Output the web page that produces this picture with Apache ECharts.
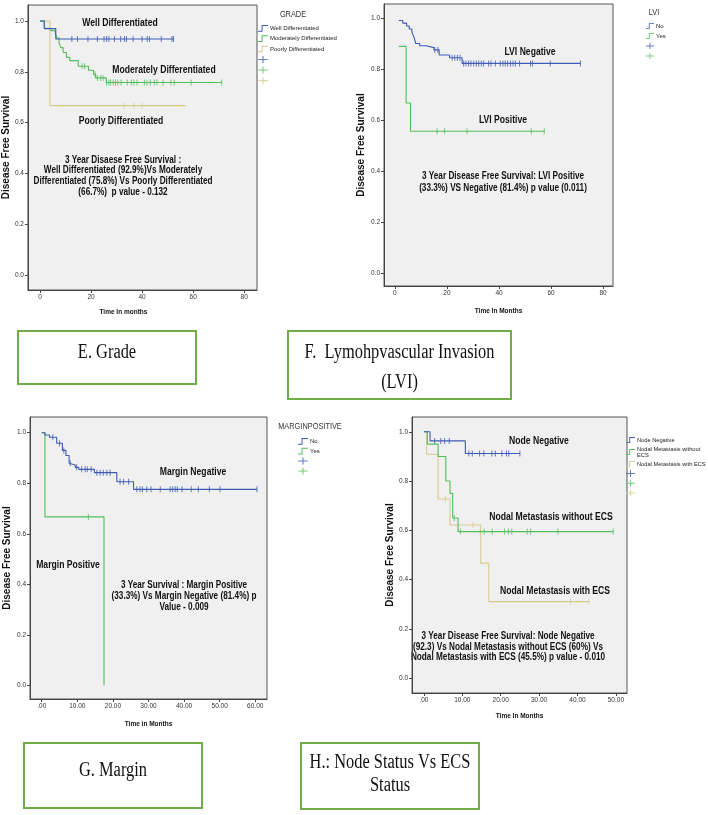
<!DOCTYPE html>
<html>
<head>
<meta charset="utf-8">
<script src="https://cdn.jsdelivr.net/npm/echarts@6/dist/echarts.min.js"></script>
<style>
  html, body { margin: 0; padding: 0; background: #fff; }
  #chart { width: 708px; height: 815px; }
</style>
</head>
<body>
<div id="chart"></div>
<script>
// ---- tick labels
const surv_ticks = [0, 0.2, 0.4, 0.6, 0.8, 1.0];
const month_ticks_80 = [0, 20, 40, 60, 80];
const month_ticks_60 = [0, 10, 20, 30, 40, 50, 60];
const month_ticks_50 = [0, 10, 20, 30, 40, 50];

// ---- E. Grade  (step points [month, survival], censored months)
const grade_well = [[0, 1], [1.7, 0.97], [6.2, 0.929], [52.3, 0.929]];
const grade_well_cens = [12.5, 14.7, 18.8, 22.5, 25.1, 26.1, 27, 29.2, 31.6, 33.1, 33.9, 36.5, 40, 42, 42.9, 47.5, 51.7, 52.3];
const grade_mod = [[0, 1], [1.7, 0.971], [4.3, 0.962], [6, 0.952], [6.7, 0.933], [7.5, 0.914], [8.2, 0.895], [9.1, 0.876],
  [10.4, 0.857], [11.7, 0.844], [15, 0.822], [19, 0.806], [21, 0.79], [21.8, 0.776], [26, 0.758], [71.2, 0.758]];
const grade_mod_cens = [16.5, 17.5, 21.6, 22.5, 23.8, 24.7, 26.1, 27, 27.7, 28.7, 29.6, 30.5, 31.8, 34.2, 35.8, 36.8, 38,
  40.9, 41.9, 43.2, 44.8, 45.8, 48.2, 51.3, 52.6, 59.2, 71.2];
const grade_poor = [[0, 1], [3.9, 0.667], [57.1, 0.667]];
const grade_poor_cens = [32.9, 36.8, 40];

// ---- F. LVI
const lvi_neg = [[1.5, 0.99], [3, 0.98], [4.5, 0.969], [5.5, 0.957], [6.5, 0.945], [7, 0.933], [7.5, 0.92], [8, 0.9],
  [9.5, 0.891], [12, 0.884], [15, 0.875], [17, 0.855], [21, 0.844], [25.8, 0.822], [71.3, 0.822]];
const lvi_neg_cens = [15.3, 16.5, 22, 23, 24, 25, 26.4, 27.3, 28.3, 29.2, 30.3, 31.3, 32.2, 33.2, 34.1, 36, 36.9, 38.6,
  40.5, 41.5, 42.4, 43.3, 44.4, 45.4, 46.3, 47.9, 52.1, 52.9, 59.7, 71.3];
const lvi_pos = [[1.5, 0.889], [4.3, 0.667], [6, 0.556], [57.4, 0.556]];
const lvi_pos_cens = [16.2, 19.1, 27.7, 52.4, 57.4];

// ---- G. Margin
const margin_neg = [[0, 1], [0.9, 0.991], [2.2, 0.982], [4.2, 0.958], [5.8, 0.93], [6.8, 0.91], [7.7, 0.879], [8.2, 0.872],
  [9.4, 0.863], [10.4, 0.855], [14.8, 0.842], [21.1, 0.806], [25.8, 0.776], [60.5, 0.776]];
const margin_neg_cens = [3.1, 5.0, 6.2, 8.0, 9.8, 11.2, 12.2, 12.8, 13.9, 15.5, 16.4, 17.3, 18.3, 19.2, 22, 23, 24.4,
  26.7, 27.6, 28.3, 29.5, 30.7, 33.3, 36.1, 36.8, 37.5, 38.1, 39.4, 42, 44, 47.1, 50.1, 60.5];
const margin_pos = [[0, 1], [0.9, 0.667], [17.5, 0.667], [17.5, 0]];
const margin_pos_cens = [13.1];

// ---- H. Node status vs ECS
const node_neg = [[0, 1], [1.6, 0.963], [10.8, 0.912], [25, 0.912]];
const node_neg_cens = [2.8, 4.4, 5.4, 6.6, 11.7, 12.6, 14.5, 15.6, 17.7, 18.6, 20.3, 21.5, 22.1, 25];
const nodal_no_ecs = [[0, 1], [0.9, 0.95], [3.7, 0.9], [5.7, 0.8], [6.8, 0.75], [7.5, 0.65], [8.9, 0.595], [49.3, 0.595]];
const nodal_no_ecs_cens = [7.9, 9.5, 14.7, 15.7, 17.8, 21, 22, 22.9, 26.9, 27.8, 34.9, 49.3];
const nodal_ecs = [[0, 1], [0.7, 0.909], [3.7, 0.727], [6.8, 0.622], [14.8, 0.467], [16.9, 0.311], [43, 0.311]];
const nodal_ecs_cens = [5.6, 12.8, 38.2, 43];

const BLUE = '#3f5bb5';
const GREEN = '#52bf5a';
const TAN = '#d6cb8e';
const SANS = '"Liberation Sans", Arial, sans-serif';
const SERIF = '"Liberation Serif", "Times New Roman", serif';
const SQUEEZE = 0.82;   // the source figure is horizontally squashed

const STEP_ICON = 'path://M0,8 L5,8 L5,0 L14,0 L14,1.4 L6.4,1.4 L6.4,9.4 L0,9.4 Z';
const PLUS_ICON = 'path://M0,3.8 L12,3.8 L12,5.2 L0,5.2 Z M5.3,0 L6.7,0 L6.7,9 L5.3,9 Z';

// survival value of a step curve at time t
function survAt(steps, t) {
  let v = steps[0][1];
  for (const [x, y] of steps) {
    if (x <= t) v = y;
  }
  return v;
}

// ✅ one KM panel: grid + axes
const panels = [
  { grid: { left: 27, top: 5, width: 230, height: 285 }, x: [-4.7, 85], y: [-0.059, 1.063], ticks: month_ticks_80,
    fmt: v => String(v), xName: 'Time In months', xGap: 19, xPad: [0, 38, 0, 0], yGap: 16 },
  { grid: { left: 384, top: 4, width: 229, height: 282 }, x: [-4.2, 83.8], y: [-0.051, 1.055], ticks: month_ticks_80,
    fmt: v => String(v), xName: 'Time In Months', xGap: 22, xPad: 0, yGap: 18 },
  { grid: { left: 30, top: 417, width: 237, height: 282 }, x: [-3.3, 63.3], y: [-0.053, 1.062], ticks: month_ticks_60,
    fmt: v => v === 0 ? '.00' : v.toFixed(2), xName: 'Time in Months', xGap: 22, xPad: 0, yGap: 18 },
  { grid: { left: 412, top: 417, width: 215, height: 276 }, x: [-3.1, 52.9], y: [-0.06, 1.06], ticks: month_ticks_50,
    fmt: v => v === 0 ? '.00' : v.toFixed(2), xName: 'Time In Months', xGap: 20, xPad: 0, yGap: 15 }
];

const axisLine = { show: true, onZero: false, lineStyle: { color: '#444', width: 1 } };
const tickLabel = { fontFamily: SANS, fontSize: 6.5, color: '#333', margin: 4 };

const grids = panels.map(p => Object.assign({ show: true, backgroundColor: '#f0f0f0', borderColor: '#555', borderWidth: 1 }, p.grid));

const xAxes = panels.map((p, i) => ({
  type: 'value', gridIndex: i, min: p.x[0], max: p.x[1],
  axisLine: axisLine, splitLine: { show: false },
  axisTick: { customValues: p.ticks, length: 3, lineStyle: { color: '#444' } },
  axisLabel: Object.assign({ customValues: p.ticks, formatter: p.fmt }, tickLabel),
  name: p.xName, nameLocation: 'middle', nameGap: p.xGap,
  nameTextStyle: { fontFamily: SANS, fontWeight: 'bold', fontSize: 6.5, color: '#111', padding: p.xPad }
}));

const yAxes = panels.map((p, i) => ({
  type: 'value', gridIndex: i, min: p.y[0], max: p.y[1],
  axisLine: axisLine, splitLine: { show: false },
  axisTick: { customValues: surv_ticks, length: 3, lineStyle: { color: '#444' } },
  axisLabel: Object.assign({ customValues: surv_ticks, formatter: v => v.toFixed(1) }, tickLabel),
  name: 'Disease Free Survival', nameLocation: 'middle', nameGap: p.yGap, nameRotate: 90,
  nameTextStyle: { fontFamily: SANS, fontWeight: 'bold', fontSize: 10, color: '#111' }
}));

// ✅ groups per panel
const groups = [
  [
    { name: 'Well Differentiated', steps: grade_well, cens: grade_well_cens, color: BLUE },
    { name: 'Moderately Differentiated', steps: grade_mod, cens: grade_mod_cens, color: GREEN },
    { name: 'Poorly Differentiated', steps: grade_poor, cens: grade_poor_cens, color: TAN }
  ],
  [
    { name: 'No', steps: lvi_neg, cens: lvi_neg_cens, color: BLUE },
    { name: 'Yes', steps: lvi_pos, cens: lvi_pos_cens, color: GREEN }
  ],
  [
    { name: 'No ', steps: margin_neg, cens: margin_neg_cens, color: BLUE },
    { name: 'Yes ', steps: margin_pos, cens: margin_pos_cens, color: GREEN }
  ],
  [
    { name: 'Node Negative', steps: node_neg, cens: node_neg_cens, color: BLUE },
    { name: 'Nodal Metastasis without ECS', steps: nodal_no_ecs, cens: nodal_no_ecs_cens, color: GREEN },
    { name: 'Nodal Metastasis with ECS', steps: nodal_ecs, cens: nodal_ecs_cens, color: TAN }
  ]
];

const series = [];
groups.forEach((list, i) => {
  // draw in reverse so the first group sits on top
  list.slice().reverse().forEach(g => {
    series.push({
      name: g.name, type: 'line', step: 'end', xAxisIndex: i, yAxisIndex: i,
      data: g.steps, symbol: 'none', silent: true,
      lineStyle: { color: g.color, width: 1.1 }, itemStyle: { color: g.color }
    });
    series.push({
      name: g.name + '+', type: 'scatter', xAxisIndex: i, yAxisIndex: i,
      data: g.cens.map(t => [t, survAt(g.steps, t)]),
      symbol: 'rect', symbolSize: [1, 6], silent: true,
      itemStyle: { color: g.color }
    });
  });
});

const legendPos = [
  { left: 258, top: 25, itemWidth: 10, fontSize: 6, gap: 3.6 },
  { left: 646, top: 23, itemWidth: 8, fontSize: 6, gap: 4 },
  { left: 298, top: 438, itemWidth: 10, fontSize: 6, gap: 3 },
  { left: 626, top: 437, itemWidth: 9, fontSize: 5.7, gap: 3 }
];

const legends = groups.map((list, i) => ({
  left: legendPos[i].left, top: legendPos[i].top, padding: 0,
  orient: 'vertical', selectedMode: false, itemWidth: legendPos[i].itemWidth, itemHeight: 7, itemGap: legendPos[i].gap,
  textStyle: { fontFamily: SANS, fontSize: legendPos[i].fontSize, lineHeight: 6, color: '#222', padding: [0, 0, 0, -3] },
  formatter: name => {
    if (name.endsWith('+')) return '';
    if (name === 'Nodal Metastasis without ECS') return 'Nodal Metastasis without\nECS';
    return name;
  },
  data: list.map(g => ({ name: g.name, icon: STEP_ICON }))
    .concat(list.map(g => ({ name: g.name + '+', icon: PLUS_ICON })))
}));

// ---- texts
function label(text, x, y, size, lh) {
  return {
    type: 'text', x: x, y: y, scaleX: SQUEEZE, silent: true,
    style: { text: text, align: 'center', verticalAlign: 'middle', fontFamily: SANS, fontWeight: 'bold',
      fontSize: size, lineHeight: lh || size + 2, fill: '#111' }
  };
}

function plain(text, x, y) {
  return {
    type: 'text', x: x, y: y, scaleX: SQUEEZE, silent: true,
    style: { text: text, align: 'center', verticalAlign: 'middle', fontFamily: SANS, fontSize: 9, fill: '#333' }
  };
}

function caption(box, text, cy, lh) {
  return [
    { type: 'rect', shape: box, silent: true, style: { fill: 'none', stroke: '#70ad47', lineWidth: 2 } },
    {
      type: 'text', x: box.x + box.width / 2, y: cy, scaleX: SQUEEZE, silent: true,
      style: { text: text, align: 'center', verticalAlign: 'middle', fontFamily: SERIF, fontSize: 20, lineHeight: lh, fill: '#111' }
    }
  ];
}

const graphics = [
  plain('GRADE', 293, 15),
  plain('LVI', 654, 13),
  plain('MARGINPOSITIVE', 310, 427),

  label('Well Differentiated', 120, 23, 10.5),
  label('Moderately Differentiated', 164, 70, 10.5),
  label('Poorly Differentiated', 121, 121, 10.5),
  label('3 Year Disaese Free Survival :\nWell Differentiated (92.9%)Vs Moderately\nDifferentiated (75.8%) Vs Poorly Differentiated\n(66.7%)  p value - 0.132', 123, 176, 10, 10.7),

  label('LVI Negative', 530, 52, 10.5),
  label('LVI Positive', 503, 120, 10.5),
  label('3 Year Disease Free Survival: LVI Positive\n(33.3%) VS Negative (81.4%) p value (0.011)', 503, 182, 10, 12),

  label('Margin Negative', 193, 472, 10.5),
  label('Margin Positive', 68, 565, 10.5),
  label('3 Year Survival : Margin Positive\n(33.3%) Vs Margin Negative (81.4%) p\nValue - 0.009', 184, 596, 10, 11),

  label('Node Negative', 539, 441, 10.5),
  label('Nodal Metastasis without ECS', 551, 517, 10.5),
  label('Nodal Metastasis with ECS', 555, 591, 10.5),
  label('3 Year Disease Free Survival: Node Negative\n(92.3) Vs Nodal Metastasis without ECS (60%) Vs\nNodal Metastasis with ECS (45.5%) p value - 0.010', 508, 647, 10, 10.5)
]
  .concat(caption({ x: 18, y: 331, width: 178, height: 53 }, 'E. Grade', 353, 24))
  .concat(caption({ x: 288, y: 331, width: 223, height: 68 }, 'F.  Lymohpvascular Invasion\n(LVI)', 368, 30))
  .concat(caption({ x: 24, y: 743, width: 178, height: 65 }, 'G. Margin', 771, 24))
  .concat(caption({ x: 301, y: 743, width: 178, height: 66 }, 'H.: Node Status Vs ECS\nStatus', 774, 23));

const chart = echarts.init(document.getElementById('chart'));
chart.setOption({
  animation: false,
  backgroundColor: '#fff',
  grid: grids,
  xAxis: xAxes,
  yAxis: yAxes,
  legend: legends,
  series: series,
  graphic: graphics
});
</script>
</body>
</html>
